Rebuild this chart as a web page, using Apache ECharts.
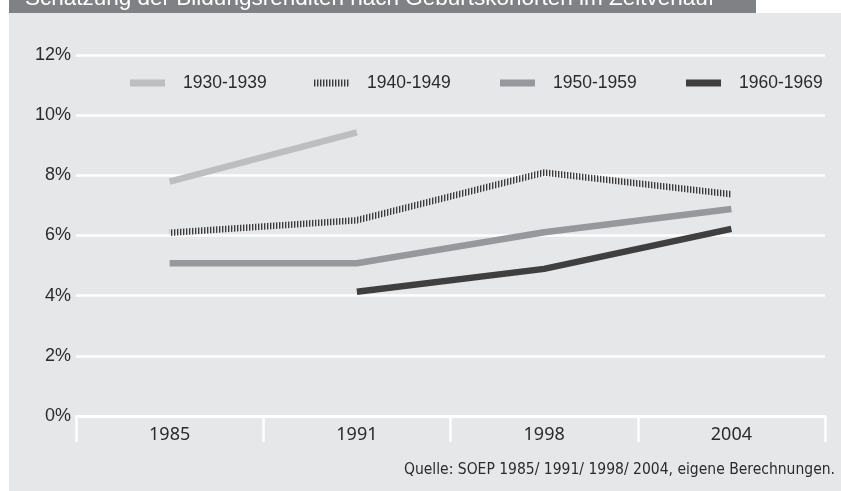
<!DOCTYPE html>
<html>
<head>
<meta charset="utf-8">
<script src="https://cdn.jsdelivr.net/npm/echarts@6/dist/echarts.min.js"></script>
<style>
html,body{margin:0;padding:0;background:#ffffff;}
#chart{width:841px;height:491px;}
</style>
</head>
<body>
<div id="chart"></div>
<script>
var titleText = 'Schätzung der Bildungsrenditen nach Geburtskohorten im Zeitverlauf';
var sourceText = 'Quelle: SOEP 1985/ 1991/ 1998/ 2004, eigene Berechnungen.';
var categories = ['1985', '1991', '1998', '2004'];
var seriesNames = ['1930-1939', '1940-1949', '1950-1959', '1960-1969'];
var s1930 = [7.79, 9.43, '-', '-'];
var s1940 = [6.09, 6.51, 8.09, 7.37];
var s1950 = [5.08, 5.08, 6.11, 6.88];
var s1960 = ['-', 4.13, 4.89, 6.22];
var yTicks = [0, 2, 4, 6, 8, 10, 12];

// vertical stripe pattern for the hatched series
var pc = document.createElement('canvas');
pc.width = 3; pc.height = 4;
var pctx = pc.getContext('2d');
pctx.fillStyle = 'rgba(50,50,50,0.95)';
pctx.fillRect(0, 0, 1, 4);
pctx.fillStyle = 'rgba(50,50,50,0.35)';
pctx.fillRect(1, 0, 1, 4);
var hatch = { image: pc, repeat: 'repeat' };

var colors = ['#bdbec0', hatch, '#97989b', '#3f3f3f'];
var dataSets = [s1930, s1940, s1950, s1960];

var legendLefts = [125, 309, 495, 681];

var chart = echarts.init(document.getElementById('chart'), null, { renderer: 'canvas' });

var series = seriesNames.map(function (n, i) {
  return {
    name: n,
    type: 'line',
    data: dataSets[i],
    symbol: 'none',
    connectNulls: false,
    lineStyle: { width: 6.5, color: colors[i], cap: 'butt', join: 'miter' },
    itemStyle: { color: colors[i] },
    z: 5
  };
});

var legends = seriesNames.map(function (n, i) {
  return {
    data: [{ name: n, icon: 'rect', itemStyle: { color: colors[i] } }],
    left: legendLefts[i],
    top: 69,
    itemWidth: 35,
    itemHeight: 7,
    selectedMode: false,
    textStyle: {
      fontFamily: 'Liberation Sans, Arial, sans-serif',
      fontSize: 17.5,
      color: '#2b2b2b',
      padding: [0, 0, 0, 13],
      lineHeight: 18
    }
  };
});

chart.setOption({
  animation: false,
  backgroundColor: '#ffffff',
  graphic: [
    { type: 'rect', z: -10, shape: { x: 9, y: 13, width: 832, height: 478 }, style: { fill: '#e6e7e9' } },
    { type: 'rect', z: -10, shape: { x: 9, y: 0, width: 747, height: 13 }, style: { fill: '#808184' } },
    { type: 'text', z: -5, left: 25, top: -13, style: { text: titleText, fill: '#ffffff', font: '22.5px "Liberation Sans", Arial, sans-serif' } },
    { type: 'text', z: 10, right: 6, top: 462, style: { text: sourceText, fill: '#2b2b2b', font: '15.5px "Liberation Sans Narrow", "DejaVu Sans Condensed", sans-serif' } }
  ],
  legend: legends,
  grid: { left: 76, right: 16, top: 55, bottom: 75, containLabel: false },
  xAxis: {
    type: 'category',
    data: categories,
    boundaryGap: true,
    axisLine: { show: true, lineStyle: { color: '#ffffff', width: 2.5 } },
    axisTick: { show: true, length: 26, lineStyle: { color: '#ffffff', width: 2.5 } },
    axisLabel: { margin: 10, fontFamily: 'Noto Sans, sans-serif', fontSize: 18, color: '#2b2b2b' },
    splitLine: { show: false }
  },
  yAxis: {
    type: 'value',
    min: yTicks[0],
    max: yTicks[yTicks.length - 1],
    interval: 2,
    axisLine: { show: false },
    axisTick: { show: false },
    axisLabel: { margin: 5, formatter: '{value}%', fontFamily: 'Liberation Sans, Arial, sans-serif', fontSize: 18, color: '#2b2b2b' },
    splitLine: { show: true, lineStyle: { color: '#ffffff', width: 2.5 } }
  },
  series: series
});
</script>
</body>
</html>
